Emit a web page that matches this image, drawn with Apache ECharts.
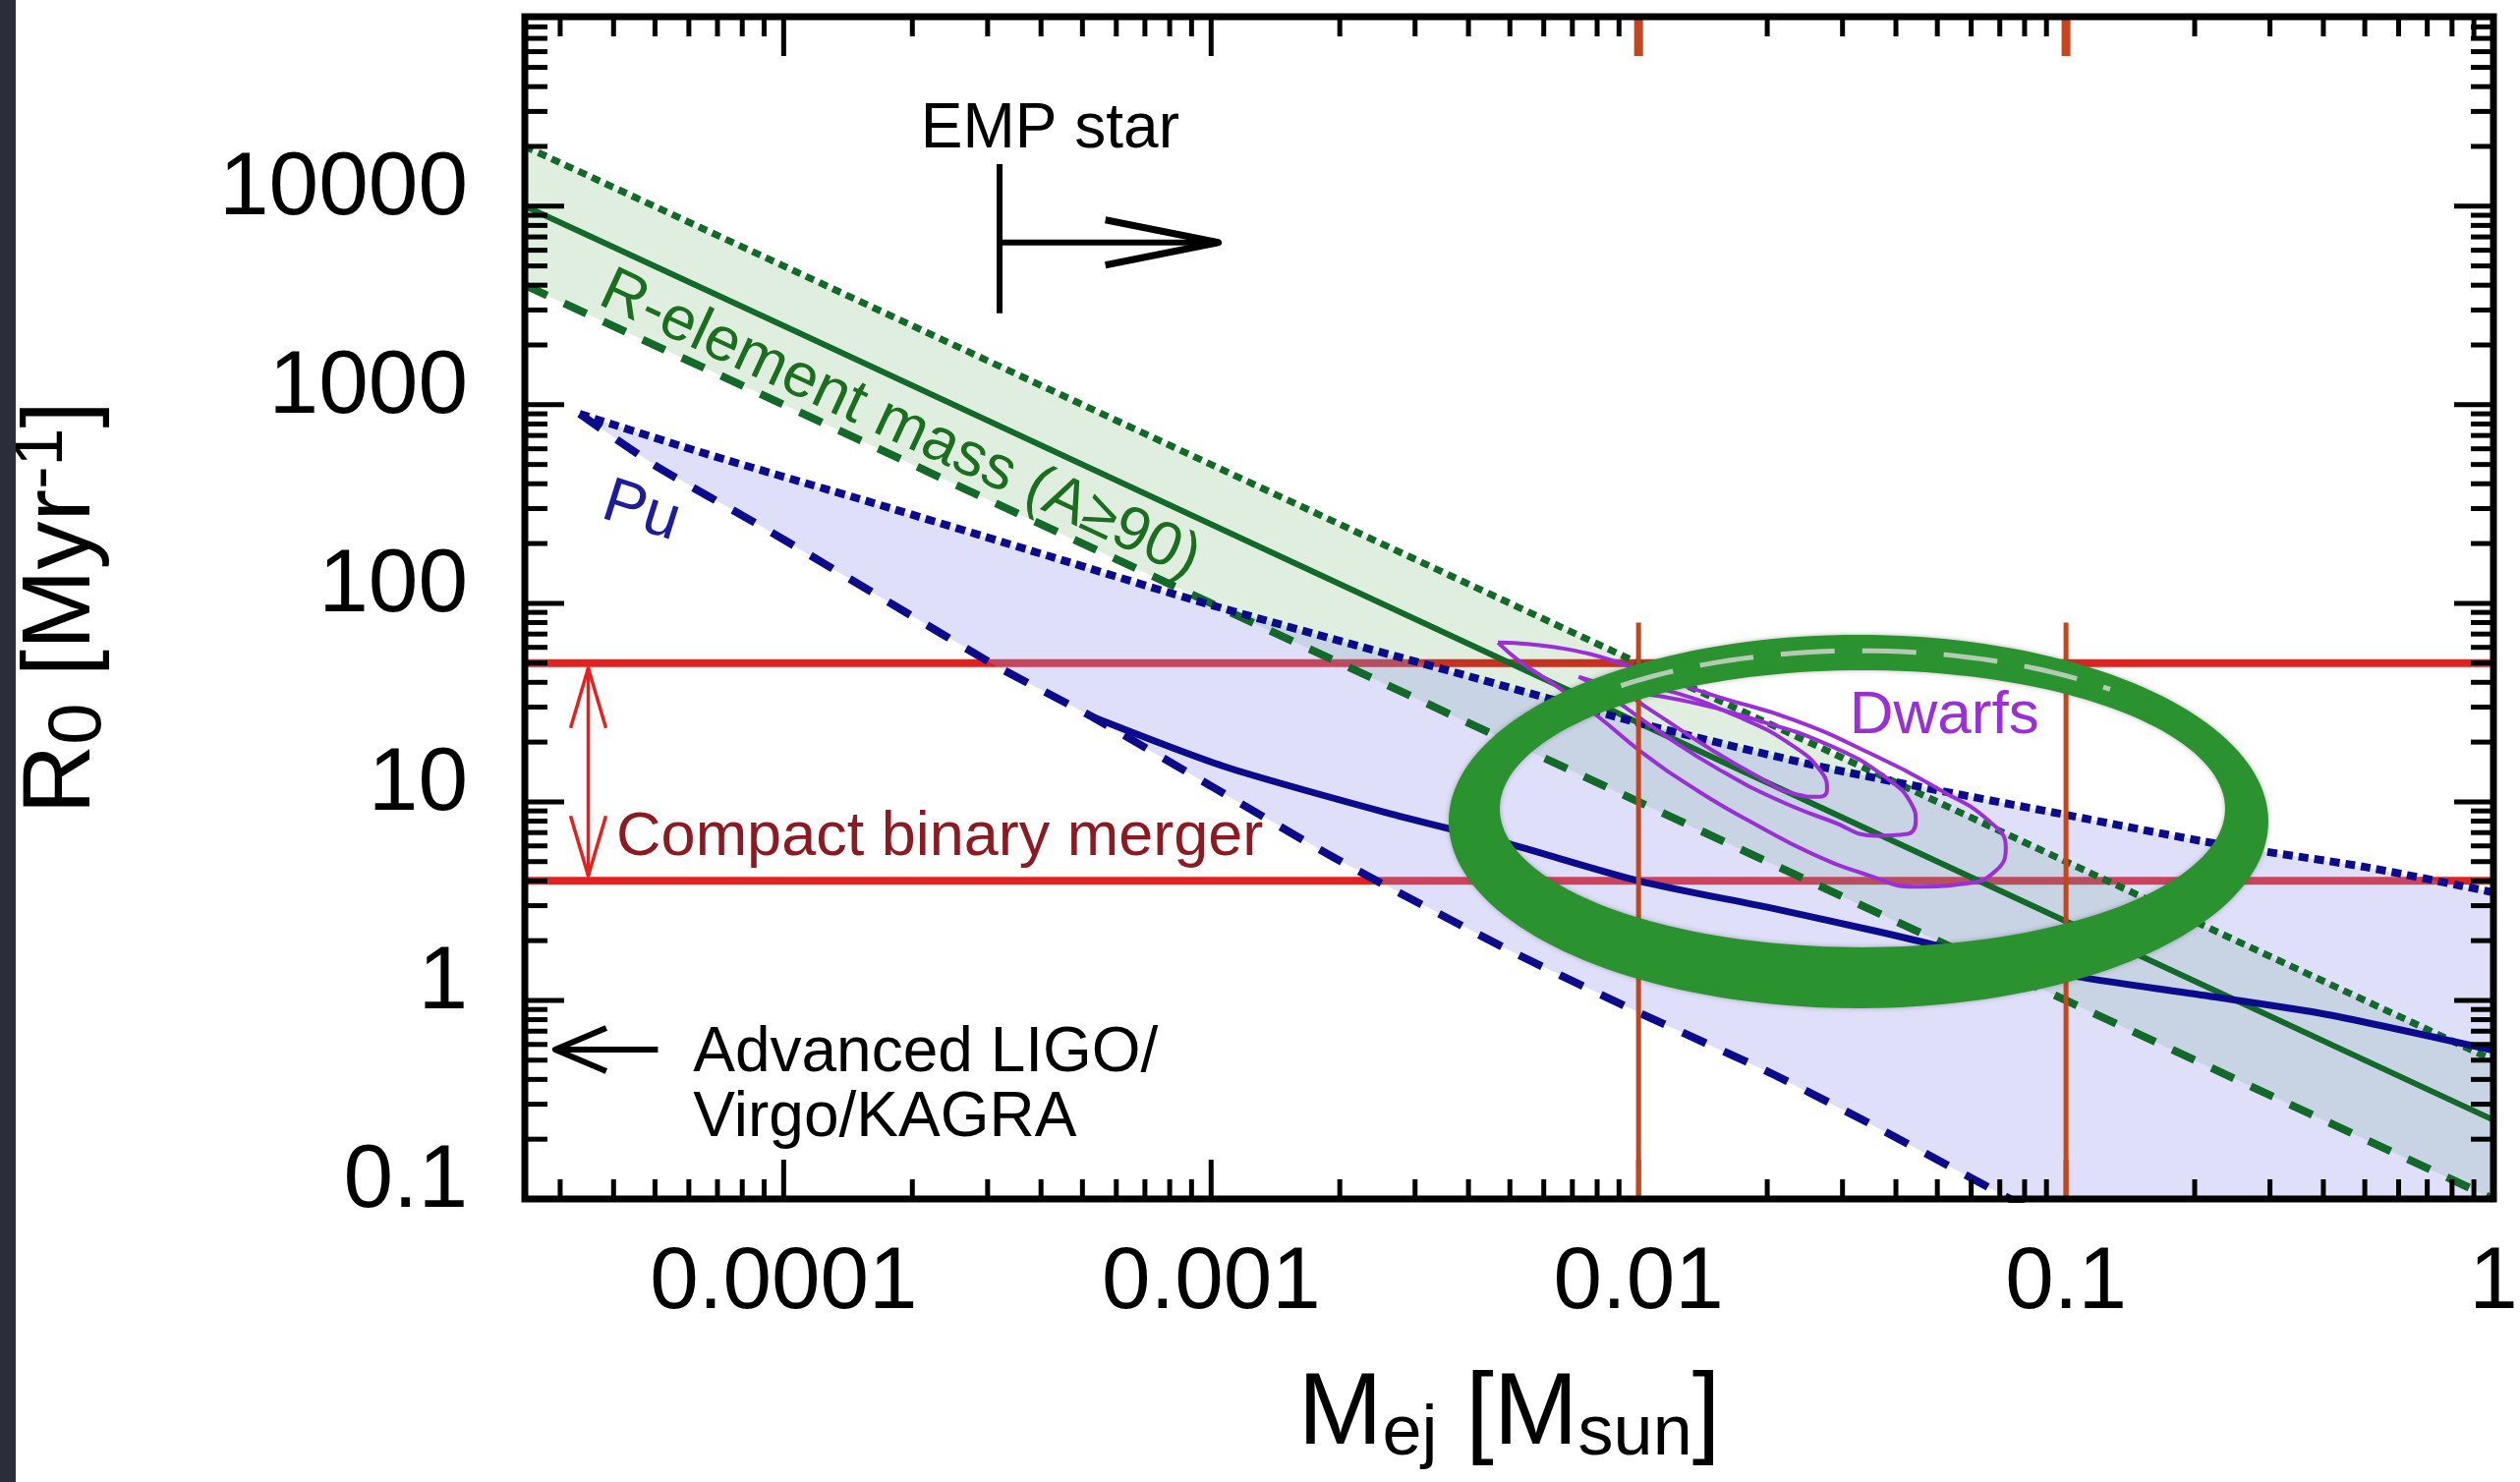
<!DOCTYPE html>
<html lang="en">
<head>
<meta charset="utf-8">
<title>R-process events: rate vs ejecta mass</title>
<script src="https://cdn.jsdelivr.net/npm/echarts@6.0.0/dist/echarts.min.js"></script>
<style>
  html, body { margin: 0; padding: 0; background: #ffffff; overflow: hidden; }
  #chart { width: 2564px; height: 1508px; }
</style>
</head>
<body>
<div id="chart"></div>
<script>
// ---- axis ranges and tick labels ----
const massRange = [2.48e-5, 1];      // M_ej [M_sun]
const rateRange = [0.1, 9e4];        // R_0 [Myr^-1]
const xTickValues = [1e-4, 1e-3, 1e-2, 1e-1, 1];
const xTickLabels = ['0.0001', '0.001', '0.01', '0.1', '1'];
const yTickValues = [0.1, 1, 10, 100, 1000, 10000];
const yTickLabels = ['0.1', '1', '10', '100', '1000', '10000'];

// ---- r-element (A >= 90) mass constraint ----
const rElemMass  = [2.48e-5, 1e-4, 1e-3, 1e-2, 1e-1, 1];
const rElemUpper = [20000, 5000, 500, 50, 5, 0.5];     // dotted
const rElemMid   = [10000, 2500, 250, 25, 2.5, 0.25];  // solid
const rElemLower = [4000, 1000, 100, 10, 1, 0.1];      // dashed

// ---- Pu constraint ----
const puUpperMass = [3.33e-5, 6.6e-5, 1.62e-4, 4.17e-4, 1e-3, 3.7e-3, 0.01, 0.028, 0.1, 0.23, 0.5, 1];
const puUpperRate = [900, 565, 320, 173, 98, 45, 25, 14.7, 8.6, 6.1, 4.7, 3.5];
const puMidMass   = [5.25e-4, 1.07e-3, 2.63e-3, 4.9e-3, 0.01, 0.0204, 0.0347, 0.1, 0.204, 0.407, 1];
const puMidRate   = [26.9, 15.1, 8.7, 6.2, 4.0, 2.92, 2.27, 1.35, 1.07, 0.85, 0.56];
const puLowerMass = [3.33e-5, 5.0e-5, 9.1e-5, 1.74e-4, 3.16e-4, 5.25e-4, 1e-3, 1.95e-3, 4.9e-3, 0.01, 0.0204, 0.0347, 0.074, 0.126];
const puLowerRate = [900, 495, 236, 103, 48, 26.9, 12, 5.2, 1.82, 0.87, 0.43, 0.24, 0.1, 0.054];

// ---- compact binary merger rate bounds and reference masses ----
const mergerRates = [50, 4];
const massMarks = [0.01, 0.1];
const massMarkTop = 80;

// ---- dwarf galaxy contours [M_ej, R_0] ----
const dwarfInner = [[8.87e-3, 40.2], [0.01156, 36.6], [0.0170, 27.0], [0.0230, 19.1], [0.0268, 14.1], [0.0276, 11.5],
  [0.0265, 10.6], [0.0230, 11.0], [0.0188, 13.6], [0.0147, 18.5], [0.01156, 25.9], [9.64e-3, 33.9], [8.87e-3, 40.2]];
const dwarfMiddle = [[7.24e-3, 42.6], [9.25e-3, 36.6], [0.01253, 32.6], [0.0188, 25.9], [0.0282, 19.1], [0.0382, 13.1],
  [0.0436, 9.66], [0.0445, 8.0], [0.0423, 6.87], [0.0360, 6.75], [0.0282, 8.0], [0.0208, 10.4], [0.0153, 14.7],
  [0.01156, 21.5], [9.25e-3, 30.2], [8.02e-3, 37.9], [7.24e-3, 42.6]];
const dwarfOuter = [[4.69e-3, 63.4], [5.57e-3, 62.2], [6.82e-3, 58.7], [8.71e-3, 51.4], [0.0111, 42.6], [0.0153, 33.9],
  [0.0230, 25.9], [0.0345, 17.7], [0.0518, 11.2], [0.0661, 8.0], [0.0723, 5.9], [0.0687, 4.52], [0.0585, 3.88],
  [0.0441, 3.74], [0.0345, 4.27], [0.0255, 5.47], [0.0188, 7.69], [0.0139, 11.2], [0.0102, 17.7], [8.02e-3, 27.0],
  [6.30e-3, 39.4], [5.25e-3, 51.4], [4.69e-3, 63.4]];

// ---- annotation anchors, in data coordinates ----
const layout = {
  emp: { mass: 3.2e-4, rateTop: 16300, rateBottom: 2890, arrowRate: 6560, arrowTo: 1.04e-3, label: [4.2e-4, 24300] },
  ligo: { rate: 0.566, from: 5.08e-5, to: 2.92e-5, line1: [6.14e-5, 0.541], line2: [6.14e-5, 0.255] },
  merger: { mass: 3.49e-5, label: [4.06e-5, 6.56] },
  pu: [4.64e-5, 288],
  rElem: [1.87e-4, 787],
  dwarfs: [0.0519, 27.0],
  // highlight ring: outer and inner outline centres (data) with radii in pixels
  ring: {
    outer: { c: [0.0327, 7.96], rx: 417, ry: 190 },
    inner: { c: [0.0334, 9.23], rx: 369, ry: 141 },
    streak: { at: 0.45, from: 232, to: 311 }   // lighter gap between marker strands, degrees
  }
};

const FONT = "'Liberation Sans', Arial, Helvetica, sans-serif";
const C = {
  green: '#12692a', greenText: '#1b6e1f', blue: '#0b0b8c', blueText: '#1d1d9a', purple: '#9a2fd6',
  red: '#e3221f', redDark: '#8b1a22', rust: '#c4461c', ring: '#2a922f',
  greenFill: 'rgba(40,140,40,0.15)', blueFill: 'rgba(150,150,240,0.30)'
};

const zip = (xs, ys) => xs.map((x, i) => [x, ys[i]]);
const isPow10 = (v, list) => list.findIndex(t => Math.abs(Math.log10(t) - Math.log10(v)) < 1e-6);

function lineSeries(name, data, color, width, type, z, smooth) {
  return {
    name, type: 'line', data, z, smooth: smooth || false, showSymbol: false, symbol: 'none',
    silent: true, animation: false, clip: true,
    lineStyle: { color, width, type: type || 'solid', cap: 'butt' }
  };
}

function fillSeries(name, outline, color, z) {
  return {
    name, type: 'custom', z, silent: true, clip: true, animation: false, data: [[1e-3, 1]],
    renderItem: (params, api) => {
      const cs = params.coordSys;
      const pts = outline.map(p => api.coord(p));
      const clipped = echarts.graphic.clipPointsByRect(pts, { x: cs.x, y: cs.y, width: cs.width, height: cs.height });
      return { type: 'polygon', shape: { points: clipped }, style: { fill: color } };
    }
  };
}

function openHead(tip, from, len, half) {
  const dx = tip[0] - from[0], dy = tip[1] - from[1];
  const d = Math.hypot(dx, dy), ux = dx / d, uy = dy / d;
  const bx = tip[0] - ux * len, by = tip[1] - uy * len;
  return [[bx - uy * half, by + ux * half], tip, [bx + uy * half, by - ux * half]];
}

// frame and log ticks on all four sides
const frameSeries = {
  name: 'frame', type: 'custom', z: 9, silent: true, clip: false, animation: false, data: [[1e-3, 1]],
  renderItem: (params, api) => {
    const cs = params.coordSys;
    const L = cs.x, R = cs.x + cs.width, T = cs.y, B = cs.y + cs.height;
    const kids = [];
    const seg = (x1, y1, x2, y2, color, w) =>
      kids.push({ type: 'line', shape: { x1, y1, x2, y2 }, style: { stroke: color, lineWidth: w } });
    for (let e = -5; e <= 0; e++) {
      for (let m = 1; m <= 9; m++) {
        const v = m * Math.pow(10, e);
        if (v <= massRange[0] * 1.0001 || v >= massRange[1] * 0.9999) continue;
        const x = api.coord([v, rateRange[0]])[0];
        const len = m === 1 ? 40 : 20;
        const mark = m === 1 && massMarks.some(mm => Math.abs(mm - v) / mm < 1e-6);
        seg(x, B, x, B - len, mark ? C.rust : '#000', 5);
        seg(x, T, x, T + len, mark ? C.rust : '#000', mark ? 9 : 5);
      }
    }
    for (let e = -1; e <= 4; e++) {
      for (let m = 1; m <= 9; m++) {
        const v = m * Math.pow(10, e);
        if (v <= rateRange[0] * 1.0001 || v >= rateRange[1] * 0.9999) continue;
        const y = api.coord([massRange[0], v])[1];
        const len = m === 1 ? 40 : 23;
        seg(L, y, L + len, y, '#000', 5);
        seg(R, y, R - len, y, '#000', 5);
      }
    }
    kids.push({ type: 'rect', shape: { x: L, y: T, width: R - L, height: B - T },
      style: { fill: 'none', stroke: '#000', lineWidth: 7 } });
    return { type: 'group', children: kids };
  }
};

// labels and arrows inside the plot
const notesSeries = {
  name: 'notes', type: 'custom', z: 6, silent: true, clip: false, animation: false, data: [[1e-3, 1]],
  renderItem: (params, api) => {
    const kids = [];
    const P = (m, r) => api.coord([m, r]);
    const poly = (points, color, width) => kids.push({ type: 'polyline', shape: { points },
      style: { stroke: color, lineWidth: width, fill: 'none', lineJoin: 'round', lineCap: 'butt' } });
    const text = (str, pos, color, size, align, rotation) => kids.push({
      type: 'text', x: pos[0], y: pos[1], rotation: rotation || 0,
      style: { text: str, fill: color, font: size + 'px ' + FONT, align: align || 'center', verticalAlign: 'middle' }
    });

    // EMP star bar and arrow
    const e = layout.emp;
    poly([P(e.mass, e.rateTop), P(e.mass, e.rateBottom)], '#000', 6);
    const s0 = P(e.mass, e.arrowRate), s1 = P(e.arrowTo, e.arrowRate);
    poly([s0, s1], '#000', 6);
    poly(openHead(s1, s0, 115, 23), '#000', 7);
    text('EMP star', P(e.label[0], e.label[1]), '#000', 64);

    // detector sensitivity arrow
    const g = layout.ligo;
    const l0 = P(g.from, g.rate), l1 = P(g.to, g.rate);
    poly([l0, l1], '#000', 6);
    poly(openHead(l1, l0, 52, 22), '#000', 6);
    text('Advanced LIGO/', P(g.line1[0], g.line1[1]), '#000', 64, 'left');
    text('Virgo/KAGRA', P(g.line2[0], g.line2[1]), '#000', 64, 'left');

    // merger rate range double arrow
    const mg = layout.merger;
    const a0 = P(mg.mass, mergerRates[0]), a1 = P(mg.mass, mergerRates[1]);
    const top = [a0[0], a0[1] + 5], bot = [a1[0], a1[1] - 5];
    poly([top, bot], C.red, 3.5);
    poly(openHead(top, bot, 61, 18), C.red, 3.5);
    poly(openHead(bot, top, 61, 18), C.red, 3.5);
    text('Compact binary merger', P(mg.label[0], mg.label[1]), C.redDark, 63, 'left');

    // band labels
    const r0 = P(rElemMass[1], rElemMid[1]), r1 = P(rElemMass[3], rElemMid[3]);
    const rot = -Math.atan2(r1[1] - r0[1], r1[0] - r0[0]);
    text('R-element mass (A\u226590)', P(layout.rElem[0], layout.rElem[1]), C.greenText, 63, 'center', rot);
    text('Pu', P(layout.pu[0], layout.pu[1]), C.blueText, 64, 'center', -0.305);
    text('Dwarfs', P(layout.dwarfs[0], layout.dwarfs[1]), C.purple, 62);
    return { type: 'group', children: kids };
  }
};

// marker-style ring around the overlap region (band between two offset ellipses)
const ringSeries = {
  name: 'ring', type: 'custom', z: 8, silent: true, clip: false, animation: false, data: [[1e-3, 1]],
  renderItem: (params, api) => {
    const o = layout.ring.outer, i = layout.ring.inner, st = layout.ring.streak;
    const co = api.coord(o.c), ci = api.coord(i.c);
    const steps = 180, pts = [];
    for (let k = 0; k <= steps; k++) {
      const t = (2 * Math.PI * k) / steps;
      pts.push([co[0] + o.rx * Math.cos(t), co[1] + o.ry * Math.sin(t)]);
    }
    for (let k = steps; k >= 0; k--) {
      const t = (2 * Math.PI * k) / steps;
      pts.push([ci[0] + i.rx * Math.cos(t), ci[1] + i.ry * Math.sin(t)]);
    }
    // thin light gap between the two marker strands along the top
    const mix = (a, b) => a + (b - a) * st.at;
    const cx = mix(co[0], ci[0]), cy = mix(co[1], ci[1]), rx = mix(o.rx, i.rx), ry = mix(o.ry, i.ry);
    const gap = [];
    for (let d = st.from; d <= st.to; d += 2) {
      const t = d * Math.PI / 180;
      gap.push([cx + rx * Math.cos(t), cy + ry * Math.sin(t)]);
    }
    return {
      type: 'group',
      children: [
        { type: 'polygon', shape: { points: pts },
          style: { fill: C.ring, shadowBlur: 5, shadowColor: 'rgba(70,70,70,0.4)' } },
        { type: 'polyline', shape: { points: gap },
          style: { stroke: 'rgba(205,212,205,0.85)', lineWidth: 5, fill: 'none', lineDash: [55, 28] } }
      ]
    };
  }
};

const greenOutline = zip(rElemMass, rElemUpper).concat(zip(rElemMass, rElemLower).reverse());
const blueOutline = zip(puUpperMass, puUpperRate)
  .concat([[massRange[1], rateRange[0]]])
  .concat(zip(puLowerMass, puLowerRate).reverse());

const series = [
  lineSeries('merger upper', [[massRange[0], mergerRates[0]], [massRange[1], mergerRates[0]]], C.red, 8, 'solid', 1),
  lineSeries('merger lower', [[massRange[0], mergerRates[1]], [massRange[1], mergerRates[1]]], C.red, 8, 'solid', 1),
  fillSeries('r-element band', greenOutline, C.greenFill, 2),
  fillSeries('Pu band', blueOutline, C.blueFill, 3),
  lineSeries('r-element upper', zip(rElemMass, rElemUpper), C.green, 7, [9, 6], 4),
  lineSeries('r-element mid', zip(rElemMass, rElemMid), C.green, 6, 'solid', 4),
  lineSeries('r-element lower', zip(rElemMass, rElemLower), C.green, 8, [25, 19], 4),
  lineSeries('Pu upper', zip(puUpperMass, puUpperRate), C.blue, 8, [10, 6], 4, 0.25),
  lineSeries('Pu mid', zip(puMidMass, puMidRate), C.blue, 7, 'solid', 4, 0.25),
  lineSeries('Pu lower', zip(puLowerMass, puLowerRate), C.blue, 8, [26, 20], 4, 0.2),
  lineSeries('dwarfs inner', dwarfInner, C.purple, 4, 'solid', 5, 0.5),
  lineSeries('dwarfs middle', dwarfMiddle, C.purple, 4, 'solid', 5, 0.5),
  lineSeries('dwarfs outer', dwarfOuter, C.purple, 4, 'solid', 5, 0.5),
  ...massMarks.map(m => lineSeries('mark ' + m, [[m, rateRange[0]], [m, massMarkTop]], C.rust, 5, 'solid', 5)),
  notesSeries,
  ringSeries,
  frameSeries
];

const axisCommon = {
  type: 'log', logBase: 10,
  axisLine: { show: false }, axisTick: { show: false }, splitLine: { show: false }, minorTick: { show: false }
};

const option = {
  animation: false,
  backgroundColor: '#ffffff',
  textStyle: { fontFamily: FONT },
  grid: { left: 534, right: 27, top: 17, bottom: 288, containLabel: false, outerBoundsMode: 'none' },
  xAxis: Object.assign({}, axisCommon, {
    min: massRange[0], max: massRange[1],
    axisLabel: {
      fontSize: 89, color: '#000', fontFamily: FONT, margin: 42,
      formatter: v => { const i = isPow10(v, xTickValues); return i >= 0 ? xTickLabels[i] : ''; }
    },
    name: '{a|M}{b|ej}{a| [M}{b|sun}{a|]}',
    nameLocation: 'middle', nameGap: 166,
    nameTextStyle: {
      color: '#000', fontFamily: FONT, fontSize: 103,
      rich: {
        a: { fontSize: 103, fontFamily: FONT, color: '#000', lineHeight: 110 },
        b: { fontSize: 72, fontFamily: FONT, color: '#000', lineHeight: 56, verticalAlign: 'bottom' }
      }
    }
  }),
  yAxis: Object.assign({}, axisCommon, {
    min: rateRange[0], max: rateRange[1],
    axisLabel: {
      fontSize: 91, color: '#000', fontFamily: FONT, margin: 58, verticalAlign: 'bottom', lineHeight: 34,
      formatter: v => { const i = isPow10(v, yTickValues); return i >= 0 ? yTickLabels[i] : ''; }
    },
    name: '{a|R}{b|0}{a| [Myr}{c|-1}{a|]}',
    nameLocation: 'middle', nameRotate: 90, nameGap: 415,
    nameTextStyle: {
      color: '#000', fontFamily: FONT, fontSize: 98,
      rich: {
        a: { fontSize: 98, fontFamily: FONT, color: '#000', lineHeight: 110 },
        b: { fontSize: 76, fontFamily: FONT, color: '#000', lineHeight: 46, verticalAlign: 'bottom' },
        c: { fontSize: 70, fontFamily: FONT, color: '#000', lineHeight: 60, verticalAlign: 'top' }
      }
    }
  }),
  graphic: [{ type: 'rect', left: 0, top: 0, z: 100, shape: { width: 16, height: 1508 }, style: { fill: '#2b2e3a' } }],
  series
};

const chart = echarts.init(document.getElementById('chart'));
chart.setOption(option);
</script>
</body>
</html>
